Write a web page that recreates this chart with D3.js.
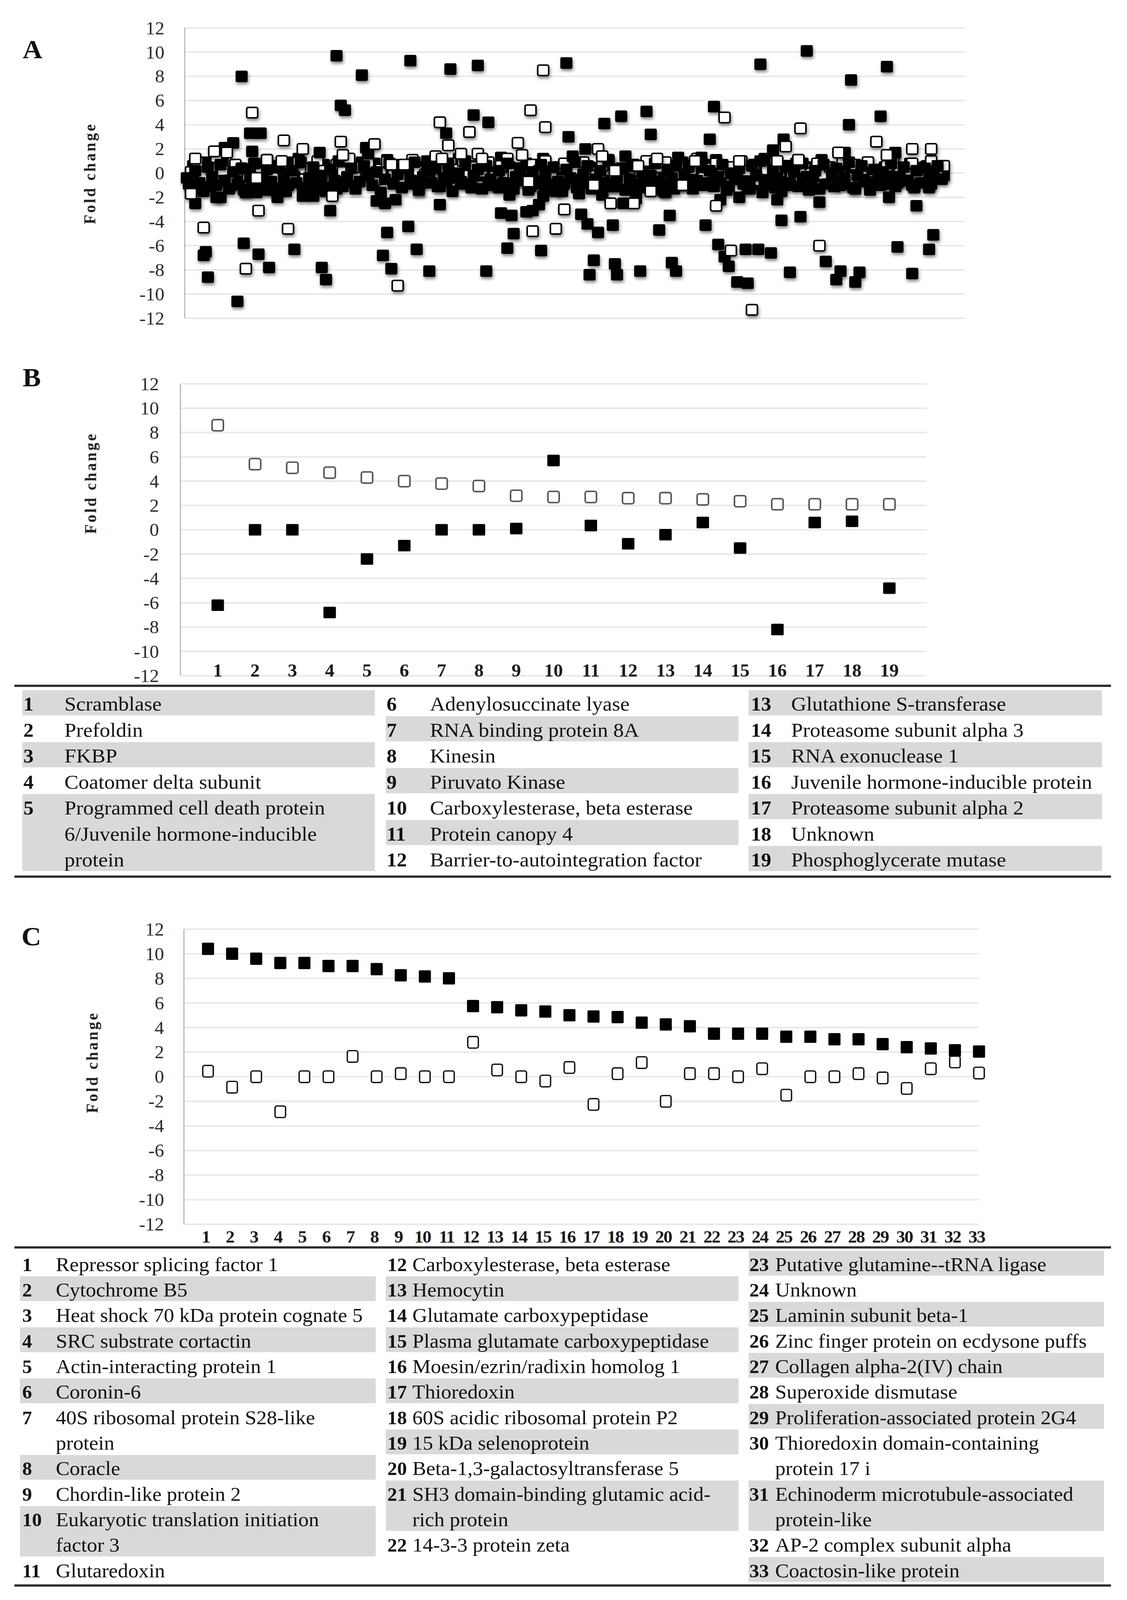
<!DOCTYPE html>
<html><head><meta charset="utf-8">
<script src="https://cdn.jsdelivr.net/npm/d3@7"></script>
<style>html,body{margin:0;padding:0;background:#fff;overflow:hidden}
#fig{display:block;width:100vw;height:100vh}</style>
</head><body><svg id="fig" viewBox="0 0 2886 4293" preserveAspectRatio="none"></svg>
<script>
// ---------------- DATA ----------------
const yTicks = [12,10,8,6,4,2,0,-2,-4,-6,-8,-10,-12];

// Panel A: [gene index, fold change]
const aFilledOutliers = [
 [27,8.0],[72,9.7],[84,8.1],[107,9.3],[126,8.6],[139,8.9],[181,9.1],
 [74,5.6],[76,5.2],[137,4.8],[144,4.2],[31,3.3],[36,3.3],[32,1.8],[23,2.5],[19,2.1],[64,1.7],[86,2.1],[87,1.6],[124,3.3],[182,3.0],[115,1.0],
 [5,-2.5],[15,-2.0],[17,-2.0],[29,-1.5],[9,-6.8],[10,-6.5],[11,-8.6],[25,-10.6],[28,-5.8],[35,-6.7],[40,-7.8],[52,-6.3],[65,-7.8],[67,-8.8],[69,-3.1],
 [94,-6.8],[96,-4.9],[98,-7.9],[106,-4.4],[110,-6.3],[116,-8.1],[121,-2.6],[143,-8.1],[153,-6.2],[156,-5.0],[169,-6.4],[91,-2.3],[95,-2.5],[100,-2.2],
 [111,-1.4],[150,-3.3],[155,-3.5],[162,-3.2],[165,-3.1],[168,-2.6],[170,-1.9],[171,-1.4],[154,-1.8],[149,-1.2],[56,-1.9],[61,-1.9],[44,-2.0],[39,-1.4],
 [295,10.1],[273,9.0],[333,8.8],[316,7.7],[251,5.5],[219,5.1],[207,4.7],[199,4.1],[330,4.7],[315,4.0],[221,3.2],[249,2.8],[284,2.8],[279,1.9],[275,1.2],
 [313,1.7],[337,1.7],[190,2.0],[209,1.4],[184,1.4],[234,1.3],[245,1.3],
 [187,-1.7],[198,-1.8],[208,-2.5],[214,-2.1],[228,-1.6],[254,-2.2],[263,-2.0],[274,-1.6],[281,-2.2],[301,-2.4],[334,-2.0],[347,-2.7],
 [188,-3.4],[191,-4.2],[196,-4.9],[203,-4.3],[230,-3.5],[225,-4.7],[247,-4.3],[283,-3.9],[292,-3.6],[194,-7.2],[192,-8.4],[204,-7.5],[205,-8.4],
 [216,-8.1],[231,-7.4],[233,-8.1],[253,-5.9],[256,-6.9],[258,-7.7],[262,-9.0],[267,-9.1],[266,-6.3],[272,-6.3],[278,-6.6],[287,-8.2],[304,-7.3],
 [311,-8.1],[309,-8.8],[320,-8.2],[318,-9.0],[338,-6.1],[345,-8.3],[353,-6.3],[355,-5.1]
];
// filled cloud, genes 2,4,6,...,360
const aFilledCloud = [
 -0.9,0.6,-1.3,-0.4,0.9,-1.1,0.3,1.2,0.8,-0.2,
 -1.0,0.4,-0.7,-1.4,0.2,-0.9,-1.6,-0.4,0.5,-1.2,
 -0.1,0.6,-0.8,-1.5,0.9,-0.3,1.2,-1.1,-0.6,0.3,
 -1.4,-0.2,0.7,-1.0,-0.5,-1.3,0.1,-0.7,1.0,-0.4,
 0.5,0.9,0.6,-0.1,0.8,0.3,-0.2,1.1,0.4,-0.6,
 0.7,0.2,-0.9,-0.3,0.5,-0.8,0.1,-0.5,1.0,-1.1,
 0.4,-0.7,0.2,-0.4,1.2,-0.9,0.3,-1.2,0.6,-0.2,
 0.9,-1.0,0.1,-0.6,1.3,-0.8,0.5,-1.3,0.2,-0.5,
 0.8,-1.1,0.4,-0.3,1.2,-0.7,0.1,-1.5,0.3,-0.9,
 0.6,-0.4,-1.2,0.2,-0.8,0.5,-1.0,0.4,-1.3,0.7,
 -0.6,-1.1,0.3,-0.2,-0.9,0.6,-1.4,0.1,-0.7,0.8,
 -0.4,-1.2,0.2,-0.9,0.5,-1.3,-0.1,0.9,-0.8,0.3,
 -0.5,0.4,-1.0,0.7,-0.3,1.1,-0.6,0.2,-1.1,0.5,
 -0.2,0.9,-0.7,-1.3,0.4,-0.9,0.1,-0.4,1.0,-1.2,
 0.6,-0.5,-1.0,0.3,0.8,-0.8,0.2,-1.4,0.5,-0.3,
 1.1,-0.6,0.4,-1.1,0.1,-0.9,0.7,-0.2,-1.3,0.6,
 -0.4,0.9,-0.7,0.3,-1.0,0.5,-0.3,1.2,-0.8,0.2,
 -0.6,0.8,-1.2,0.4,-0.5,0.6,-0.9,0.3,0.5,-0.2
];
// second filled cloud, genes 1,3,5,...,359
const aFilledCloud2 = [
 -0.4,-1.2,0.2,-0.8,-1.5,0.5,-0.3,-1.0,0.7,-0.6,
 -1.3,0.1,-0.9,0.4,-1.6,-0.2,0.8,-1.1,-0.5,0.3,
 -0.7,-1.4,0.6,-0.1,-1.0,0.2,-0.8,0.9,-1.2,-0.4,
 0.5,-0.9,-0.2,-1.5,0.3,-0.6,1.0,-1.1,-0.3,0.4,
 -1.3,-0.7,0.6,-0.2,-1.0,0.1,-1.6,-0.5,0.8,-0.9,
 -0.1,-1.2,0.4,-0.6,0.9,-1.4,-0.3,0.2,-0.8,0.5,
 -1.1,-0.4,0.7,-1.5,0.0,-0.7,1.0,-0.9,-0.2,0.3,
 -1.3,0.6,-0.5,-1.0,0.2,-0.8,0.8,-1.2,-0.3,0.4,
 -0.6,-1.4,0.1,-0.9,0.7,-0.2,-1.1,0.5,-0.7,-1.5,
 0.3,-0.4,0.9,-1.0,-0.1,0.6,-1.3,-0.5,0.2,-0.8,
 1.0,-1.1,-0.3,0.4,-1.4,-0.6,0.7,-0.9,0.1,-1.2,
 -0.2,0.8,-0.7,-1.5,0.3,-0.4,0.6,-1.0,-0.1,0.5,
 -1.3,-0.6,0.9,-0.8,0.2,-1.1,-0.3,0.7,-1.4,0.0,
 -0.5,0.4,-0.9,-1.2,0.6,-0.2,1.0,-0.7,-1.0,0.3,
 -0.4,-1.5,0.5,-0.8,0.1,-1.1,0.8,-0.3,-0.6,0.2,
 -1.3,0.7,-0.9,-0.1,0.4,-1.0,-0.5,0.9,-1.2,-0.2,
 0.6,-0.7,-1.4,0.3,-0.4,0.1,-0.9,0.8,-1.1,-0.3,
 0.5,-0.6,-1.0,0.2,-0.8,0.4,-1.2,-0.1,0.6,-0.5
];
const aOpenOutliers = [
 [32,5.0],[170,8.5],[164,5.2],[171,3.8],[121,4.2],[135,3.4],[125,2.3],[158,2.5],[160,1.5],[47,2.7],[74,2.6],[90,2.4],[56,2.0],[75,1.5],
 [35,-3.1],[49,-4.6],[9,-4.5],[29,-7.9],[101,-9.3],[165,-4.8],[176,-4.6],[180,-3.0],[70,-1.9],[3,-1.7],[5,1.2],[14,1.8],[20,1.7],
 [104,0.7],[98,0.7],[119,1.4],[122,1.2],[131,1.6],[139,1.6],[141,1.2],[39,1.1],[46,1.0],[163,-0.7],[34,-0.4],
 [256,4.6],[292,3.7],[328,2.6],[345,2.0],[354,2.0],[285,2.2],[333,1.5],[196,2.0],[198,1.4],[224,1.2],[242,1.0],[263,1.0],[291,1.1],
 [202,-2.5],[213,-2.5],[221,-1.5],[236,-1.0],[194,-1.0],[252,-2.7],[281,1.0],[259,-6.4],[301,-6.0],[269,-11.3],[204,0.2],[215,0.6],[310,1.7]
];
// open cloud, genes 3,6,9,...,360
const aOpenCloud = [
 0.1,0.9,-0.3,0.5,1.3,0.2,-0.6,0.7,0.4,-0.2,
 0.8,0.0,1.1,-0.4,0.6,0.3,-0.1,0.9,-0.5,0.4,
 1.0,0.2,-0.3,0.7,0.1,1.2,-0.2,0.5,0.8,-0.6,
 0.3,0.9,0.0,-0.4,0.6,1.1,0.2,-0.1,0.7,0.4,
 -0.5,0.8,0.3,1.0,-0.2,0.5,0.1,0.9,-0.3,0.6,
 1.2,0.0,0.4,-0.6,0.7,0.2,1.0,-0.1,0.5,0.8,
 -0.4,0.3,0.9,0.1,-0.2,0.6,1.1,0.0,0.4,-0.5,
 0.7,0.2,1.0,-0.3,0.5,0.9,0.1,-0.1,0.6,0.3,
 1.2,-0.4,0.4,0.8,0.0,0.5,-0.2,1.0,0.2,0.7,
 -0.6,0.3,0.9,0.1,0.6,-0.3,1.1,0.4,0.0,0.8,
 -0.1,0.5,0.2,1.0,-0.4,0.7,0.3,0.9,0.1,-0.2,
 0.6,1.2,0.4,0.0,0.8,-0.3,0.5,1.0,0.2,0.6
];

// Panel B
const bCategories = [1,2,3,4,5,6,7,8,9,10,11,12,13,14,15,16,17,18,19];
const bOpen   = [8.6,5.4,5.1,4.7,4.3,4.0,3.8,3.6,2.8,2.7,2.7,2.6,2.6,2.5,2.35,2.1,2.1,2.1,2.1];
const bFilled = [-6.2,0,0,-6.8,-2.4,-1.3,0,0,0.1,5.7,0.35,-1.15,-0.4,0.6,-1.5,-8.2,0.6,0.7,-4.8];
const bNames = [
 "Scramblase","Prefoldin","FKBP","Coatomer delta subunit",
 "Programmed cell death protein\n6/Juvenile hormone-inducible\nprotein",
 "Adenylosuccinate lyase","RNA binding protein 8A","Kinesin","Piruvato Kinase",
 "Carboxylesterase, beta esterase","Protein canopy 4","Barrier-to-autointegration factor",
 "Glutathione S-transferase","Proteasome subunit alpha 3","RNA exonuclease 1",
 "Juvenile hormone-inducible protein","Proteasome subunit alpha 2","Unknown","Phosphoglycerate mutase"
];
const bColumns = [[1,2,3,4,5],[6,7,8,9,10,11,12],[13,14,15,16,17,18,19]];

// Panel C
const cCategories = [1,2,3,4,5,6,7,8,9,10,11,12,13,14,15,16,17,18,19,20,21,22,23,24,25,26,27,28,29,30,31,32,33];
const cFilled = [10.4,10.0,9.6,9.25,9.25,9.0,9.0,8.75,8.25,8.15,8.0,5.75,5.65,5.4,5.3,5.0,4.9,4.85,4.4,4.25,4.1,3.5,3.5,3.5,3.25,3.25,3.05,3.05,2.65,2.4,2.3,2.15,2.05];
const cOpen   = [0.45,-0.85,0,-2.85,0,0,1.65,0,0.25,0,0,2.8,0.55,0,-0.35,0.75,-2.25,0.25,1.15,-2.0,0.25,0.25,0,0.65,-1.5,0,0,0.25,-0.1,-0.95,0.65,1.2,0.3];
const cNames = [
 "Repressor splicing factor 1","Cytochrome B5","Heat shock 70 kDa protein cognate 5","SRC substrate cortactin",
 "Actin-interacting protein 1","Coronin-6","40S ribosomal protein S28-like\nprotein","Coracle","Chordin-like protein 2",
 "Eukaryotic translation initiation\nfactor 3","Glutaredoxin","Carboxylesterase, beta esterase","Hemocytin",
 "Glutamate carboxypeptidase","Plasma glutamate carboxypeptidase","Moesin/ezrin/radixin homolog 1","Thioredoxin",
 "60S acidic ribosomal protein P2","15 kDa selenoprotein","Beta-1,3-galactosyltransferase 5",
 "SH3 domain-binding glutamic acid-\nrich protein","14-3-3 protein zeta","Putative glutamine--tRNA ligase","Unknown",
 "Laminin subunit beta-1","Zinc finger protein on ecdysone puffs","Collagen alpha-2(IV) chain","Superoxide dismutase",
 "Proliferation-associated protein 2G4","Thioredoxin domain-containing\nprotein 17 i","Echinoderm microtubule-associated\nprotein-like",
 "AP-2 complex subunit alpha","Coactosin-like protein"
];
const cColumns = [[1,2,3,4,5,6,7,8,9,10,11],[12,13,14,15,16,17,18,19,20,21,22],[23,24,25,26,27,28,29,30,31,32,33]];

// ---------------- DRAWING ----------------
const SERIF = "'Liberation Serif','Times New Roman',serif";
const svg = d3.select("#fig");
svg.append("rect").attr("width",2886).attr("height",4293).attr("fill","#fff");
const defs = svg.append("defs");
const f = defs.append("filter").attr("id","shadow").attr("x","-60%").attr("y","-60%").attr("width","220%").attr("height","220%");
f.append("feDropShadow").attr("dx",2).attr("dy",6).attr("stdDeviation",4).attr("flood-color","#000").attr("flood-opacity",0.45);

function panelFrame(p){
  const g = svg.append("g");
  const y = d3.scaleLinear().domain([-12,12]).range([p.bottom,p.top]);
  const x = d3.scaleLinear().domain(p.xDomain).range([p.left,p.right]);
  g.selectAll("line.grid").data(yTicks).enter().append("line")
    .attr("x1",p.left).attr("x2",p.right).attr("y1",d=>y(d)).attr("y2",d=>y(d))
    .attr("stroke","#e8e8e8").attr("stroke-width",4);
  g.append("line").attr("x1",p.left).attr("x2",p.left).attr("y1",y(12)).attr("y2",y(-12))
    .attr("stroke","#b8b8b8").attr("stroke-width",3);
  g.selectAll("text.yt").data(yTicks).enter().append("text")
    .attr("x",p.labelRight).attr("y",d=>y(d)).attr("dy","0.35em")
    .attr("text-anchor","end").attr("font-family",SERIF).attr("font-size",48).attr("fill","#2a2a2a")
    .text(d=>String(d));
  g.append("text").attr("transform",`translate(${p.foldX},${p.foldY}) rotate(-90)`)
    .attr("text-anchor","middle").attr("dy","0.35em").attr("font-family",SERIF).attr("font-weight","bold")
    .attr("font-size",42).attr("letter-spacing",5).attr("fill","#222").text("Fold change");
  g.append("text").attr("x",p.letterX).attr("y",p.letterY).attr("font-family",SERIF).attr("font-weight","bold")
    .attr("font-size",70).attr("fill","#111").text(p.letter);
  return {g,x,y};
}

function markers(g, pts, x, y, opt){
  g.selectAll(null).data(pts).enter().append("rect")
    .attr("x",d=>x(d[0])-opt.w/2).attr("y",d=>y(d[1])-opt.h/2)
    .attr("width",opt.w).attr("height",opt.h).attr("rx",opt.rx)
    .attr("fill",opt.fill).attr("stroke",opt.stroke||"none").attr("stroke-width",opt.sw||0)
    .attr("filter",opt.shadow?"url(#shadow)":null);
}

// Panel A
{
  const p = {left:473,right:2471,top:75,bottom:854,labelRight:421,foldX:229,foldY:465,xDomain:[0,370],letter:"A",letterX:58,letterY:156};
  const {g,x,y} = panelFrame(p);
  const fOpt = {w:31,h:31,rx:4,fill:"#000",shadow:true};
  const oOpt = {w:28,h:28,rx:4,fill:"#fff",stroke:"#000",sw:4,shadow:true};
  markers(g, aFilledCloud.map((v,i)=>[2+2*i,v]), x, y, fOpt);
  markers(g, aOpenCloud.map((v,i)=>[3+3*i,v]), x, y, oOpt);
  markers(g, aFilledCloud2.map((v,i)=>[1+2*i,v]), x, y, fOpt);
  markers(g, aFilledOutliers, x, y, fOpt);
  markers(g, aOpenOutliers, x, y, oOpt);
}
// Panel B
{
  const p = {left:462,right:2373,top:1030,bottom:1813,labelRight:407,foldX:231,foldY:1296,xDomain:[0,20],letter:"B",letterX:58,letterY:1037};
  const {g,x,y} = panelFrame(p);
  markers(g, bCategories.map((c,i)=>[c,bOpen[i]]), x, y, {w:29,h:30,rx:5,fill:"#fff",stroke:"#555",sw:4});
  markers(g, bCategories.map((c,i)=>[c,bFilled[i]]), x, y, {w:32,h:31,rx:3,fill:"#000"});
  g.selectAll(null).data(bCategories).enter().append("text")
    .attr("x",d=>x(d)).attr("y",1798).attr("dy","0.35em").attr("text-anchor","middle")
    .attr("font-family",SERIF).attr("font-weight","bold").attr("font-size",48).attr("fill","#1a1a1a").text(d=>d);
}
// Panel C
{
  const p = {left:471,right:2507,top:2493,bottom:3285,labelRight:420,foldX:235,foldY:2850,xDomain:[0,33],letter:"C",letterX:55,letterY:2536};
  const {g,x,y} = panelFrame(p);
  markers(g, cCategories.map((c,i)=>[c,cFilled[i]]), x, y, {w:31,h:33,rx:3,fill:"#000"});
  markers(g, cCategories.map((c,i)=>[c,cOpen[i]]), x, y, {w:27,h:31,rx:5,fill:"#fff",stroke:"#111",sw:3.5});
  g.selectAll(null).data(cCategories).enter().append("text")
    .attr("x",d=>x(d)-6).attr("y",3318).attr("dy","0.35em").attr("text-anchor","middle")
    .attr("font-family",SERIF).attr("font-weight","bold").attr("font-size",46).attr("letter-spacing",-2)
    .attr("fill","#1a1a1a").text(d=>d);
}

// Tables
function hline(yv){
  svg.append("line").attr("x1",37).attr("x2",2845).attr("y1",yv).attr("y2",yv).attr("stroke","#2b2b2b").attr("stroke-width",6);
}
function drawTable(names, columns, cfg){
  const g = svg.append("g");
  columns.forEach((col,ci)=>{
    let yv = cfg.top;
    let shaded = cfg.startShaded[ci];
    col.forEach(num=>{
      const lines = names[num-1].split("\n");
      const h = lines.length*cfg.unit;
      if(shaded){
        g.append("rect").attr("x",cfg.rects[ci][0]).attr("y",yv+1).attr("width",cfg.rects[ci][1]-cfg.rects[ci][0])
          .attr("height",h-2).attr("fill","#d9d9d9");
      }
      g.append("text").attr("x",cfg.numX[ci]).attr("y",yv+cfg.base).attr("font-family",SERIF).attr("font-weight","bold")
        .attr("font-size",cfg.numSize).attr("fill","#111").text(num);
      lines.forEach((ln,li)=>{
        g.append("text").attr("x",cfg.nameX[ci]).attr("y",yv+cfg.base+li*cfg.unit).attr("font-family",SERIF)
          .attr("font-size",cfg.nameSize).attr("fill","#111").text(ln);
      });
      yv += h; shaded = !shaded;
    });
  });
}
hline(1840); hline(2352);
drawTable(bNames, bColumns, {top:1851,unit:69.6,base:56,startShaded:[true,false,true],
  rects:[[57,960],[988,1891],[1917,2822]],numX:[60,990,1923],nameX:[165,1101,2026],numSize:52,nameSize:54});
hline(3347); hline(4254);
drawTable(cNames, cColumns, {top:3355,unit:68.5,base:55,startShaded:[false,false,true],
  rects:[[51,962],[988,1891],[1917,2827]],numX:[57,992,1919],nameX:[143,1056,1985],numSize:50,nameSize:53});
</script></body></html>
